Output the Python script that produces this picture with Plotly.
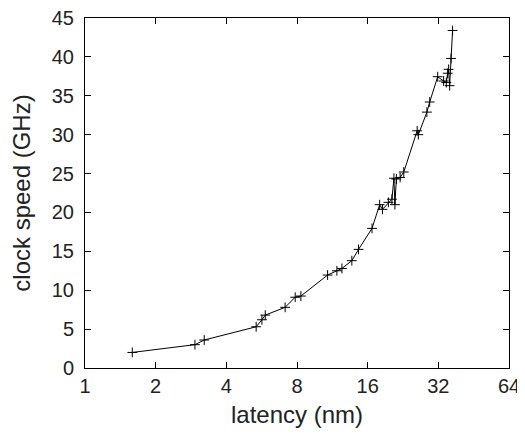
import plotly.graph_objects as go

latency_nm = [1.59, 2.94, 3.22, 5.36, 5.67, 5.86, 7.12, 7.86, 8.31, 10.8, 11.83, 12.43,
              13.7, 14.63, 16.7, 18.0, 18.5, 19.6, 20.3, 20.7, 20.9, 21.2, 22.0, 22.8,
              26.0, 26.3, 28.6, 29.4, 31.8, 33.7, 34.6, 35.07, 35.4, 35.75, 36.25, 36.8]
clock_ghz = [2.0, 3.0, 3.6, 5.3, 6.2, 6.8, 7.8, 9.1, 9.25, 11.95, 12.5, 12.8,
             13.8, 15.25, 17.95, 21.0, 20.4, 21.3, 21.7, 24.4, 21.0, 24.3, 24.5, 25.2,
             30.5, 30.0, 32.9, 34.2, 37.45, 36.9, 36.7, 37.9, 38.4, 36.3, 39.8, 43.4]

x_ticks = [1, 2, 4, 8, 16, 32, 64]
y_ticks = [0, 5, 10, 15, 20, 25, 30, 35, 40, 45]

FONT = "Liberation Sans, Arial, sans-serif"

fig = go.Figure()
fig.add_trace(go.Scatter(
    x=latency_nm, y=clock_ghz, mode="lines+markers",
    line=dict(color="black", width=1),
    marker=dict(symbol="cross-thin", size=7, line=dict(color="black", width=1)),
    showlegend=False,
))

# The page body has an 8px default margin; the figure is sized and offset for it.
fig.update_layout(
    width=517, height=420,
    margin=dict(l=77, r=16, t=10, b=60),
    paper_bgcolor="white", plot_bgcolor="white",
    font=dict(family=FONT, size=20, color="#222"),
    xaxis=dict(
        type="log", range=[0, 1.80618], tickvals=x_ticks, ticktext=[str(v) for v in x_ticks],
        showgrid=False, zeroline=False, showline=True, linecolor="black", linewidth=1,
        mirror="ticks", ticks="inside", ticklen=6, tickcolor="black",
        ticklabeloverflow="allow",
        title=dict(text="latency (nm)", standoff=10),
        automargin=False,
    ),
    yaxis=dict(
        range=[0, 45], tickvals=y_ticks,
        showgrid=False, zeroline=False, showline=True, linecolor="black", linewidth=1,
        mirror="ticks", ticks="inside", ticklen=6, tickcolor="black",
        ticklabelstandoff=6, ticklabeloverflow="allow",
        title=dict(text="clock speed (GHz)", standoff=18),
        automargin=False,
    ),
)

fig.write_html("out.html")
